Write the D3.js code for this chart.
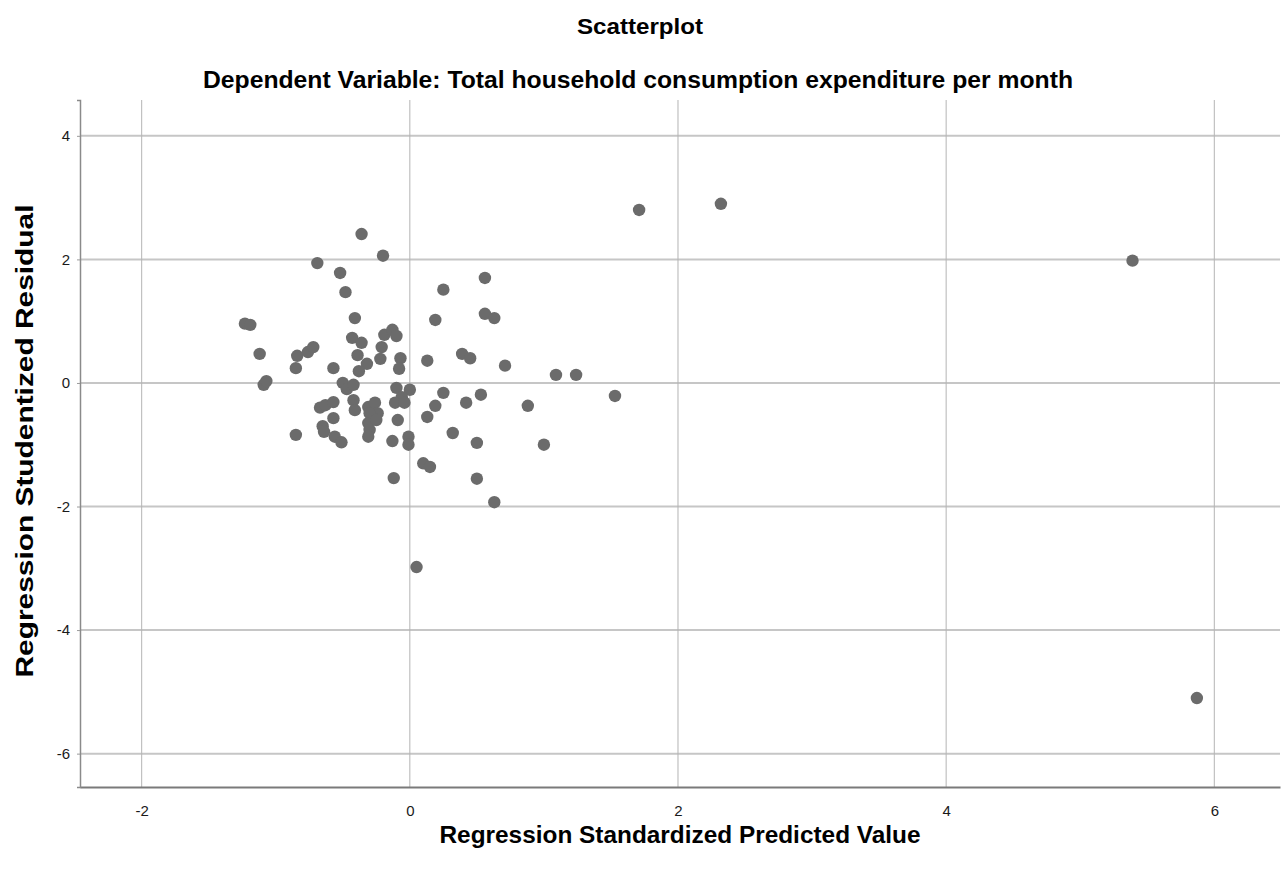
<!DOCTYPE html>
<html>
<head>
<meta charset="utf-8">
<script src="https://cdn.jsdelivr.net/npm/d3@7"></script>
<style>
  body { margin: 0; background: #fff; }
  text { font-family: "Liberation Sans", Arial, sans-serif; }
</style>
</head>
<body>
<div id="chart"></div>
<script>
// regression standardized predicted value (x) / studentized residual (y)
const predicted = [
  1.71, 2.32, 5.39, 5.87, 1.53, 0.05, -0.20, 0.56, 0.25, 0.19,
  0.56, 0.63, 0.13, 0.39, 0.45, 0.71, 1.09, 1.24, 0.25, 0.53,
  0.42, 0.19, 0.88, 0.13, 0.32, 0.50, 1.00, -0.13, -0.01, -0.01,
  0.10, 0.15, -0.12, 0.50, 0.63, -0.36, -0.69, -0.52, -0.48, -1.23,
  -1.19, -0.41, -1.12, -0.84, -0.76, -0.72, -0.85, -1.09, -1.07, -0.57,
  -0.43, -0.36, -0.39, -0.32, -0.38, -0.19, -0.13, -0.10, -0.21, -0.22,
  -0.07, -0.08, -0.50, -0.47, -0.42, -0.10, 0.00, -0.06, -0.11, -0.04,
  -0.67, -0.63, -0.57, -0.57, -0.65, -0.64, -0.85, -0.56, -0.51, -0.42,
  -0.41, -0.31, -0.26, -0.24, -0.30, -0.31, -0.30, -0.31, -0.25, -0.09
]
const residual = [
  2.80, 2.90, 1.98, -5.10, -0.21, -2.98, 2.06, 1.70, 1.51, 1.02,
  1.12, 1.05, 0.36, 0.47, 0.40, 0.28, 0.13, 0.13, -0.16, -0.19,
  -0.32, -0.37, -0.37, -0.55, -0.81, -0.97, -1.00, -0.94, -0.87, -1.00,
  -1.30, -1.36, -1.54, -1.55, -1.93, 2.41, 1.94, 1.78, 1.47, 0.96,
  0.94, 1.05, 0.47, 0.44, 0.50, 0.58, 0.24, -0.03, 0.03, 0.24,
  0.73, 0.65, 0.45, 0.31, 0.19, 0.78, 0.86, 0.76, 0.58, 0.39,
  0.40, 0.23, 0.00, -0.10, -0.03, -0.08, -0.11, -0.23, -0.32, -0.32,
  -0.40, -0.36, -0.31, -0.57, -0.70, -0.79, -0.84, -0.87, -0.96, -0.28,
  -0.44, -0.39, -0.32, -0.49, -0.49, -0.65, -0.76, -0.87, -0.60, -0.60
]
const xTicks = [-2, 0, 2, 4, 6]
const yTicks = [-6, -4, -2, 0, 2, 4]

const title = "Scatterplot"
const subtitle = "Dependent Variable: Total household consumption expenditure per month"
const xLabel = "Regression Standardized Predicted Value"
const yLabel = "Regression Studentized Residual"

const width = 1281, height = 881
const margin = {top: 100, right: 1, bottom: 94, left: 80}

const svg = d3.select("#chart").append("svg")
    .attr("width", width)
    .attr("height", height)

const x = d3.scaleLinear()
    .domain([-2.46, 6.49])
    .range([margin.left, width - margin.right])

const y = d3.scaleLinear()
    .domain([-6.54, 4.58])
    .range([height - margin.bottom, margin.top])

// grid
svg.append("g")
    .selectAll("line")
    .data(yTicks)
    .join("line")
    .attr("x1", margin.left)
    .attr("x2", width - margin.right)
    .attr("y1", d => y(d))
    .attr("y2", d => y(d))
    .attr("stroke", "#c6c6c6")
    .attr("stroke-width", 2)

svg.append("g")
    .selectAll("line")
    .data(xTicks)
    .join("line")
    .attr("x1", d => x(d))
    .attr("x2", d => x(d))
    .attr("y1", margin.top)
    .attr("y2", height - margin.bottom)
    .attr("stroke", "#b4b4b4")
    .attr("stroke-width", 1)

// axes (plain hyphen for negatives, like the original)
const fmt = d => String(d)

const gx = svg.append("g")
    .attr("transform", `translate(0,${height - margin.bottom})`)
    .call(d3.axisBottom(x).tickValues(xTicks).tickSize(0).tickPadding(18).tickFormat(fmt))
gx.select(".domain").attr("stroke", "#7a7a7a").attr("stroke-width", 2)

const gy = svg.append("g")
    .attr("transform", `translate(${margin.left},0)`)
    .call(d3.axisLeft(y).tickValues(yTicks).tickSize(3).tickPadding(7).tickFormat(fmt))
gy.select(".domain").attr("stroke", "#8a8a8a").attr("stroke-width", 1.5)
gy.selectAll(".tick line").attr("stroke", "#9a9a9a")

svg.selectAll("g").attr("font-size", null).attr("font-family", null)
svg.selectAll(".tick text")
    .style("font-family", "'Liberation Sans', Arial, sans-serif")
    .style("font-size", "15px")
    .attr("fill", "#1a1a1a")

// points
svg.append("g")
    .selectAll("circle")
    .data(predicted.map((d, i) => [d, residual[i]]))
    .join("circle")
    .attr("cx", d => x(d[0]))
    .attr("cy", d => y(d[1]))
    .attr("r", 6.2)
    .attr("fill", "#6b6b6b")

// titles
svg.append("text")
    .attr("x", 640).attr("y", 34)
    .attr("text-anchor", "middle")
    .attr("font-size", 22).attr("font-weight", "bold")
    .attr("textLength", 126).attr("lengthAdjust", "spacingAndGlyphs")
    .text(title)

svg.append("text")
    .attr("x", 638).attr("y", 88)
    .attr("text-anchor", "middle")
    .attr("font-size", 23).attr("font-weight", "bold")
    .attr("textLength", 870).attr("lengthAdjust", "spacingAndGlyphs")
    .text(subtitle)

svg.append("text")
    .attr("x", 680).attr("y", 843)
    .attr("text-anchor", "middle")
    .attr("font-size", 24).attr("font-weight", "bold")
    .attr("textLength", 481).attr("lengthAdjust", "spacingAndGlyphs")
    .text(xLabel)

svg.append("text")
    .attr("transform", "translate(33,441) rotate(-90)")
    .attr("text-anchor", "middle")
    .attr("font-size", 23).attr("font-weight", "bold")
    .attr("textLength", 473).attr("lengthAdjust", "spacingAndGlyphs")
    .text(yLabel)
</script>
</body>
</html>
